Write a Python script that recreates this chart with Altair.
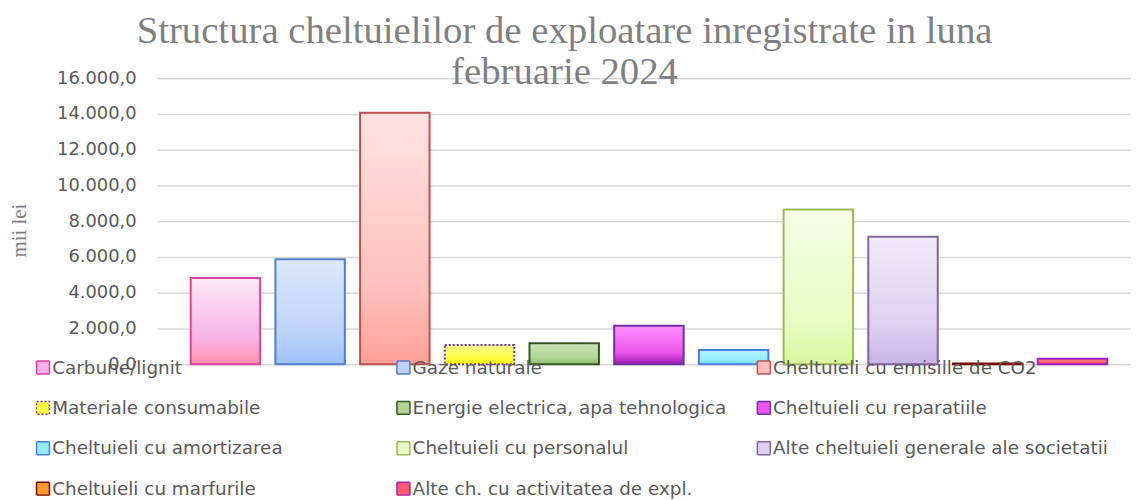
import altair as alt
import pandas as pd

# ---------------- data ----------------
categories = [
    "Carbune/lignit",
    "Gaze naturale",
    "Cheltuieli cu emisille de CO2",
    "Materiale consumabile",
    "Energie electrica, apa tehnologica",
    "Cheltuieli cu reparatiile",
    "Cheltuieli cu amortizarea",
    "Cheltuieli cu personalul",
    "Alte cheltuieli generale ale societatii",
    "Cheltuieli cu marfurile",
    "Alte ch. cu activitatea de expl.",
]
values = [4820, 5870, 14070, 1080, 1170, 2150, 800, 8650, 7130, 40, 300]
y_ticks = [0, 2000, 4000, 6000, 8000, 10000, 12000, 14000, 16000]

# ---------------- styles ----------------
grad_top = ["#fde8f6", "#dde8fb", "#ffe2e2", "#ffff90", "#cde5b8", "#ff90ff",
            "#b4f5ff", "#f5fee6", "#f0eaf9", "#ffb060", "#ff8a8a"]
grad_mid = ["#f7b2e8", "#bcd3fa", "#ffc0bc", "#ffff40", "#add492", "#ee55ee",
            "#92ecf8", "#e8fcc4", "#ddd0f0", "#ff9a30", "#ff5a6a"]
grad_bot = ["#ff8fa8", "#9fc0fa", "#ffa098", "#ffff00", "#8cbf6c", "#9a1aaa",
            "#6fdff0", "#d8f8a0", "#c8b4e6", "#ff8000", "#ff2a50"]
strokes = ["#e040a0", "#4f7fc7", "#c0504d", "#7030a0", "#375623", "#7030a0",
           "#4a7fe8", "#9bbb59", "#8064a2", "#800000", "#a020c0"]
dashes = [[1, 0], [1, 0], [1, 0], [2, 2], [1, 0], [1, 0],
          [1, 0], [1, 0], [1, 0], [1, 0], [1, 0]]

df = pd.DataFrame({"cat": categories, "val": values})

x_enc = alt.X(
    "cat:N",
    sort=categories,
    scale=alt.Scale(domain=categories, paddingInner=0.18, paddingOuter=0.34, align=0.586),
    axis=None,
)
y_enc = alt.Y(
    "val:Q",
    scale=alt.Scale(domain=[0, 16000], nice=False),
    axis=alt.Axis(
        values=y_ticks,
        labelExpr="replace(replace(replace(format(datum.value, ',.1f'), ',', '#'), '.', ','), '#', '.')",
        labelFont="DejaVu Sans",
        labelFontSize=18,
        labelColor="#595959",
        labelPadding=21,
        ticks=False,
        tickSize=0,
        domain=False,
        grid=True,
        gridColor="#d9d9d9",
        gridWidth=1.5,
        title="mii lei",
        titleFont="Liberation Serif",
        titleFontSize=21,
        titleFontWeight="normal",
        titleColor="#7f7f7f",
        titleAngle=270,
        titleX=-132,
        titleY=153,
        titleAlign="center",
        titleBaseline="alphabetic",
    ),
)

layers = []
for i, c in enumerate(categories):
    grad = alt.Gradient(
        gradient="linear",
        stops=[
            alt.GradientStop(color=grad_top[i], offset=0),
            alt.GradientStop(color=grad_mid[i], offset=0.7),
            alt.GradientStop(color=grad_bot[i], offset=1),
        ],
        x1=0, x2=0, y1=0, y2=1,
    )
    layers.append(
        alt.Chart(df)
        .transform_filter(alt.datum.cat == c)
        .mark_bar(fill=grad, stroke=strokes[i], strokeWidth=2, strokeDash=dashes[i])
        .encode(x=x_enc, y=y_enc)
    )

legend_layer = (
    alt.Chart(df)
    .transform_filter("false")
    .mark_square(opacity=1, strokeWidth=1.5)
    .encode(
        fill=alt.Fill(
            "cat:N",
            scale=alt.Scale(domain=categories, range=grad_mid),
            legend=alt.Legend(
                orient="none",
                direction="horizontal",
                legendX=-124,
                legendY=282,
                columns=3,
                gridAlign="all",
                columnPadding=6,
                rowPadding=20.7,
                padding=0,
                symbolType="square",
                symbolSize=169,
                symbolOpacity=1,
                symbolStrokeWidth=1.5,
                labelFont="DejaVu Sans",
                labelFontSize=18.5,
                labelColor="#595959",
                labelOffset=0,
                labelLimit=500,
                title=None,
            ),
        ),
        stroke=alt.Stroke("cat:N", scale=alt.Scale(domain=categories, range=strokes)),
        strokeDash=alt.StrokeDash("cat:N", scale=alt.Scale(domain=categories, range=dashes)),
    )
)

chart = (
    alt.layer(*layers, legend_layer)
    .properties(
        width=981,
        height=288,
        autosize="none",
        padding={"left": 150, "top": 69, "right": 0, "bottom": 134},
        title=alt.TitleParams(
            text=["Structura cheltuielilor de exploatare inregistrate in luna", "februarie 2024"],
            font="Liberation Serif",
            fontSize=39,
            fontWeight="normal",
            color="#7f7f7f",
            anchor="middle",
            lineHeight=41,
            offset=-23,
            dx=-80,
        ),
    )
    .configure_view(stroke=None)
)

chart.save("out.html", embed_options={"renderer": "svg", "actions": False})
